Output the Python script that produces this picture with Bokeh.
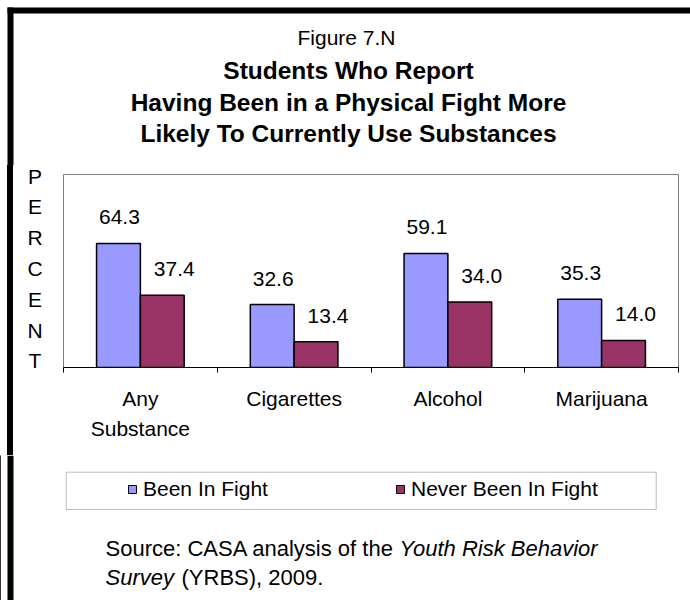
from bokeh.plotting import figure
from bokeh.layouts import column, row
from bokeh.models import (ColumnDataSource, Range1d, LinearAxis, FixedTicker, Div,
                          LabelSet, Label, Legend, LegendItem, BoxAnnotation)
from bokeh.core.properties import value
from bokeh.transform import dodge
from bokeh.embed import file_html
from bokeh.resources import INLINE

# ---- data ----
categories = ["Any Substance", "Cigarettes", "Alcohol", "Marijuana"]
tick_labels = ["Any\nSubstance", "Cigarettes", "Alcohol", "Marijuana"]
been_in_fight = [64.3, 32.6, 59.1, 35.3]
never_in_fight = [37.4, 13.4, 34.0, 14.0]
series_names = ["Been In Fight", "Never Been In Fight"]
fig_label = "Figure 7.N"
title_lines = ["Students Who Report",
               "Having Been in a Physical Fight More",
               "Likely To Currently Use Substances"]
y_label = "PERCENT"
source_parts = [("Source: CASA analysis of the", "normal"), ("Youth Risk Behavior", "italic"),
                ("Survey", "italic"), ("(YRBS), 2009.", "normal")]

FONT = "Liberation Sans"
BLUE = "#9999FF"
PLUM = "#993366"
TXT = "21px"

W = 690
Y_TOP, Y_MID, Y_BOT = 165, 455, 600   # page rows: title | chart | legend+source
LEFT_W = 62


def aux_fig(width, y0, y1):
    """A plain drawing surface whose data units are the page pixels (y downward)."""
    f = figure(x_range=Range1d(0, width), y_range=Range1d(y1, y0), width=width, height=y1 - y0,
               output_backend="svg", toolbar_location=None, min_border=0,
               min_border_left=0, min_border_right=0, min_border_top=0, min_border_bottom=0,
               x_axis_location=None, y_axis_location=None)
    f.grid.visible = False
    f.outline_line_color = None
    f.background_fill_color = "white"
    f.border_fill_color = "white"
    return f


def label(f, text, X, Y, size=TXT, style="normal", align="center"):
    f.add_layout(Label(x=X, y=Y, text=text, text_font=FONT, text_font_size=size,
                       text_font_style=style, text_align=align, text_baseline="middle",
                       text_color="black"))


def strip(f, l, r, t, b):
    f.add_layout(BoxAnnotation(left=l, right=r, top=t, bottom=b,
                               fill_color="black", fill_alpha=1, line_color=None))


# ---- title block ----
top = aux_fig(W, 0, Y_TOP)
strip(top, 7, 13, 7, Y_TOP)
strip(top, 7, W, 7, 13)
label(top, fig_label, 346, 37)
for t, yy in zip(title_lines, (70, 102, 133)):
    label(top, t, 348, yy, size="24.5px", style="bold")

# ---- left strip: thick border and the vertical "PERCENT" caption ----
first_letter_centre = 177 - Y_TOP          # page y 177
letters_html = "<br>".join(y_label)
left = Div(width=LEFT_W, height=Y_MID - Y_TOP, margin=0, text=(
    f'<div style="display:flex;align-items:flex-start;height:{Y_MID - Y_TOP}px;margin:0;padding:0;">'
    f'<div style="flex:none;margin-left:7px;width:6px;height:{Y_MID - Y_TOP}px;background:#000;"></div>'
    f'<div style="flex:none;width:44px;margin-top:{first_letter_centre - 15.4:.1f}px;'
    f'font-family:\'{FONT}\';font-size:21px;line-height:30.8px;text-align:center;color:#000;">'
    f'{letters_html}</div></div>'))

# ---- chart ----
n = len(categories)
slots = [i + 0.5 for i in range(n)]          # category centres on a 0..n slot axis
p = figure(x_range=Range1d(0, n), y_range=Range1d(0, 100),
           width=W - LEFT_W, height=Y_MID - Y_TOP, output_backend="svg", toolbar_location=None,
           min_border_left=1, min_border_right=12, min_border_top=174 - Y_TOP, min_border_bottom=Y_MID - 367,
           x_axis_location=None, y_axis_location=None)
p.grid.visible = False
p.outline_line_color = "#808080"
p.outline_line_width = 1
p.background_fill_color = "white"
p.border_fill_color = "white"

src = ColumnDataSource(dict(
    cat=categories,
    slot=slots,
    a=been_in_fight,
    b=never_in_fight,
    la=[f"{v:.1f}" for v in been_in_fight],
    lb=[f"{v:.1f}" for v in never_in_fight],
))

p.vbar(x=dodge("slot", -0.1425), top="a", width=0.285, source=src,
       fill_color=BLUE, line_color="black", line_width=1.5)
p.vbar(x=dodge("slot", 0.1425), top="b", width=0.285, source=src,
       fill_color=PLUM, line_color="black", line_width=1.5)

for col, off, xoff in (("la", -0.1425, 1), ("lb", 0.1425, 12)):
    p.add_layout(LabelSet(x=dodge("slot", off), y=col[1], text=col,
                          source=src, x_offset=xoff, y_offset=19,
                          text_align="center", text_baseline="alphabetic",
                          text_font=value(FONT), text_font_size=TXT, text_color="black"))

ax = LinearAxis(ticker=FixedTicker(ticks=slots, minor_ticks=list(range(n + 1))),
                major_label_overrides={s: t for s, t in zip(slots, tick_labels)},
                major_tick_line_color=None, major_tick_in=0, major_tick_out=0,
                minor_tick_in=0, minor_tick_out=5, minor_tick_line_color="black",
                axis_line_color="black", axis_line_width=1,
                major_label_standoff=14,
                major_label_text_font=FONT, major_label_text_font_size=TXT,
                major_label_text_color="black", major_label_text_line_height=1.34)
p.add_layout(ax, "below")

# ---- legend and source ----
bot = aux_fig(W, Y_MID, Y_BOT)
strip(bot, 7, 13, Y_MID, Y_BOT)
# legend proxies (one point each, placed off the visible area)
proxy = ColumnDataSource(dict(x=[-100], top=[Y_MID]))
g1 = bot.vbar(x="x", top="top", bottom=Y_BOT, width=1, source=proxy,
              fill_color=BLUE, line_color="black", line_width=1)
g2 = bot.vbar(x="x", top="top", bottom=Y_BOT, width=1, source=proxy,
              fill_color=PLUM, line_color="black", line_width=1)
legend = Legend(items=[LegendItem(label=series_names[0], renderers=[g1]),
                       LegendItem(label=series_names[1], renderers=[g2])],
                orientation="horizontal", location=(127, Y_BOT - 501),
                glyph_width=10, glyph_height=10, label_standoff=6,
                label_width=200, spacing=52, padding=0,
                border_line_alpha=0, background_fill_alpha=0,
                label_text_font=FONT, label_text_font_size=TXT, label_text_color="black")
bot.add_layout(legend, "center")
bot.add_layout(BoxAnnotation(left=65.7, right=655.7, top=471.7, bottom=509,
                             fill_alpha=0, line_color="#222222", line_width=1))

label(bot, source_parts[0][0], 105, 548, size="22px", style=source_parts[0][1], align="left")
label(bot, source_parts[1][0], 399, 548, size="22px", style=source_parts[1][1], align="left")
label(bot, source_parts[2][0], 105, 577, size="22px", style=source_parts[2][1], align="left")
label(bot, source_parts[3][0], 181, 577, size="22px", style=source_parts[3][1], align="left")

page = column(top, row(left, p, spacing=0), bot, spacing=0)
open("out.html", "w").write(file_html(page, INLINE))
